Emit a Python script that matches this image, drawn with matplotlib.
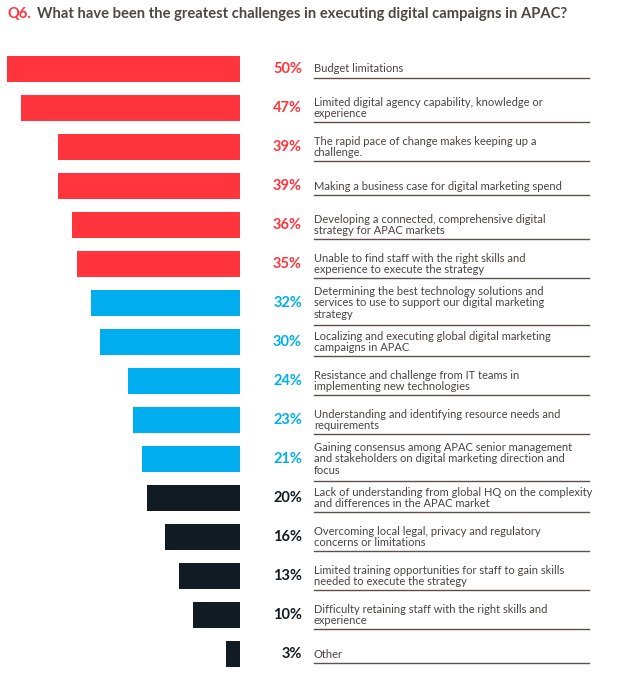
import numpy as np
import matplotlib
matplotlib.use('Agg')
import matplotlib.pyplot as plt

plt.rcParams['font.family'] = ['Lato', 'DejaVu Sans']

# Données
valeurs = [50, 47, 39, 39, 36, 35, 32, 30, 24, 23, 21, 20, 16, 13, 10, 3]
groupes = ['r'] * 6 + ['b'] * 5 + ['k'] * 5
etiquettes = [
    "Budget limitations",
    "Limited digital agency capability, knowledge or\nexperience",
    "The rapid pace of change makes keeping up a\nchallenge.",
    "Making a business case for digital marketing spend",
    "Developing a connected, comprehensive digital\nstrategy for APAC markets",
    "Unable to find staff with the right skills and\nexperience to execute the strategy",
    "Determining the best technology solutions and\nservices to use to support our digital marketing\nstrategy",
    "Localizing and executing global digital marketing\ncampaigns in APAC",
    "Resistance and challenge from IT teams in\nimplementing new technologies",
    "Understanding and identifying resource needs and\nrequirements",
    "Gaining consensus among APAC senior management\nand stakeholders on digital marketing direction and\nfocus",
    "Lack of understanding from global HQ on the complexity\nand differences in the APAC market",
    "Overcoming local legal, privacy and regulatory\nconcerns or limitations",
    "Limited training opportunities for staff to gain skills\nneeded to execute the strategy",
    "Difficulty retaining staff with the right skills and\nexperience",
    "Other",
]
titre_q = "Q6."
titre = "What have been the greatest challenges in executing digital campaigns in APAC?"

couleurs = {'r': '#FF343C', 'b': '#00AEEF', 'k': '#111B23'}
gris = '#4A4441'
trait = '#5C5149'

W, H = 644, 690
fig = plt.figure(figsize=(W / 100, H / 100), dpi=100)
ax = fig.add_axes([0, 0, 1, 1])

# échelle: 4.66 px par %, zéro à x=240 px ; rangée i à y = 69 + 39 i px
px_pct = 4.66
x0 = 240
ax.set_xlim(-x0 / px_pct, (W - x0) / px_pct)
ax.set_ylim((H - 69) / 39, -69 / 39)
ax.axis('off')

def px(x):
    return (x - x0) / px_pct

def py(y):
    return (y - 69) / 39

rangs = np.arange(len(valeurs))
ax.barh(rangs, -np.array(valeurs), height=26 / 39,
        color=[couleurs[g] for g in groupes], left=0)

decal = {1: 9, 2: 14, 3: 22}
for i, (v, g, lab) in enumerate(zip(valeurs, groupes, etiquettes)):
    ax.text(px(302), i, f"{v}%", ha='right', va='center', fontsize=10.5,
            fontweight='bold', color=couleurs[g])
    ax.text(px(314), i, lab, ha='left', va='center', fontsize=8.0,
            color=gris, linespacing=1.1)
    n = lab.count('\n') + 1
    yl = i + decal[n] / 39
    ax.plot([px(314), px(589)], [yl, yl], color=trait, lw=1.0)

ax.text(px(8), py(14), titre_q, ha='left', va='center', fontsize=10.6,
        fontweight='bold', color='#FF343C')
ax.text(px(37), py(14), titre, ha='left', va='center', fontsize=10.6,
        fontweight='bold', color='#4D4845')

fig.savefig('out.png', dpi=100)
